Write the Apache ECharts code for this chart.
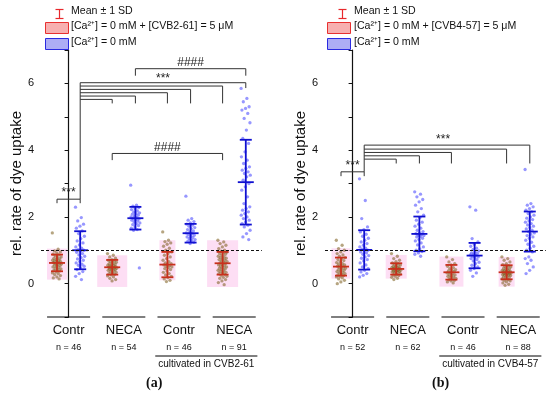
<!DOCTYPE html>
<html><head><meta charset="utf-8">
<script src="https://cdn.jsdelivr.net/npm/echarts@6/dist/echarts.min.js"></script>
<style>html,body{margin:0;padding:0;background:#fff}#c{width:550px;height:399px}</style>
</head><body><div id="c"></div>
<script>
// ---------------- DATA ----------------
const categories = ['Contr', 'NECA', 'Contr', 'NECA'];
const nA = [46, 54, 46, 91];
const nB = [52, 62, 46, 88];
const yTickLabels = [0, 2, 4, 6];

// Panel (a) — CVB2-61
const redA1 = [1.52,1.03,0.98,0.95,0.92,0.88,0.86,0.83,0.8,0.78,0.76,0.74,0.72,0.7,0.69,0.67,0.66,0.65,0.63,0.62,0.6,0.59,0.57,0.56,0.54,0.52,0.5,0.48,0.46,0.44,0.42,0.4,0.38,0.35,0.32,0.3,0.27,0.24,0.2,0.17,0.14];
const blueA1 = [2.29,1.98,1.88,1.78,1.72,1.66,1.58,1.5,1.42,1.35,1.28,1.22,1.16,1.1,1.06,1.02,1.0,0.97,0.94,0.9,0.86,0.82,0.78,0.74,0.7,0.66,0.62,0.58,0.55,0.52,0.48,0.42,0.36,0.3,0.22,0.12];
const redA2 = [0.9,0.85,0.8,0.76,0.72,0.7,0.68,0.66,0.64,0.62,0.6,0.58,0.56,0.55,0.54,0.52,0.51,0.5,0.49,0.48,0.47,0.46,0.45,0.44,0.42,0.41,0.4,0.38,0.36,0.34,0.32,0.3,0.28,0.26,0.23,0.2,0.16,0.12,0.08];
const blueA2 = [2.95,2.35,2.32,2.28,2.25,2.22,2.18,2.15,2.12,2.1,2.08,2.05,2.02,2.0,1.98,1.96,1.94,1.92,1.9,1.88,1.85,1.82,1.8,1.77,1.74,1.7,1.66,1.62,1.6,0.47];
const redA3 = [1.55,1.3,1.26,1.22,1.18,1.12,1.06,1.0,0.95,0.9,0.85,0.8,0.75,0.7,0.66,0.62,0.6,0.58,0.56,0.54,0.52,0.5,0.48,0.45,0.42,0.38,0.34,0.3,0.26,0.22,0.18,0.14,0.1,0.06];
const blueA3 = [2.62,1.95,1.9,1.86,1.82,1.78,1.75,1.72,1.68,1.65,1.62,1.58,1.55,1.52,1.5,1.48,1.45,1.42,1.4,1.38,1.35,1.32,1.3,1.27,1.24,1.2];
const redA4 = [1.3,1.25,1.2,1.15,1.1,1.05,1.0,0.97,0.94,0.92,0.9,0.88,0.85,0.82,0.8,0.78,0.76,0.74,0.72,0.7,0.68,0.66,0.64,0.62,0.6,0.58,0.56,0.54,0.52,0.5,0.48,0.46,0.44,0.42,0.4,0.38,0.36,0.34,0.32,0.3,0.28,0.25,0.22,0.19,0.16,0.12,0.08,0.03,-0.03];
const blueA4 = [5.85,5.55,5.45,5.3,5.25,5.2,5.1,4.95,4.82,4.6,4.35,4.2,3.95,3.8,3.7,3.6,3.5,3.45,3.4,3.35,3.3,3.25,3.2,3.1,3.0,2.9,2.8,2.6,2.4,2.3,2.25,2.2,2.15,2.1,2.05,2.0,1.95,1.9,1.85,1.8,1.75,1.7,1.6,1.5,1.4,1.32];
const meanRedA = [0.62, 0.49, 0.57, 0.61];
const sdRedA   = [0.25, 0.22, 0.38, 0.34];
const meanBlueA = [1.0, 1.96, 1.51, 3.04];
const sdBlueA   = [0.57, 0.34, 0.28, 1.27];
const boxLowA  = [0.12, -0.1, 0.1, -0.1];
const boxHighA = [1.05, 0.85, 1.3, 1.3];

// Panel (b) — CVB4-57
const redB1 = [1.3,1.15,1.05,1.0,0.95,0.9,0.86,0.82,0.78,0.75,0.72,0.69,0.66,0.63,0.6,0.58,0.56,0.54,0.52,0.5,0.48,0.46,0.44,0.42,0.4,0.38,0.36,0.34,0.32,0.3,0.28,0.26,0.24,0.22,0.2,0.17,0.14,0.1,0.05,0.0];
const blueB1 = [3.14,2.49,1.95,1.7,1.62,1.55,1.48,1.42,1.36,1.3,1.25,1.2,1.15,1.1,1.06,1.03,1.0,0.98,0.95,0.92,0.88,0.84,0.8,0.76,0.72,0.68,0.62,0.56,0.5,0.45,0.4,0.35,0.3,0.25,0.2];
const redB2 = [0.9,0.82,0.75,0.7,0.66,0.62,0.6,0.58,0.56,0.54,0.52,0.5,0.49,0.48,0.47,0.46,0.45,0.44,0.43,0.42,0.41,0.4,0.39,0.38,0.37,0.36,0.35,0.34,0.32,0.3,0.28,0.26,0.24,0.22,0.19,0.16,0.12];
const blueB2 = [2.75,2.68,2.6,2.52,2.45,2.35,2.25,2.15,2.05,1.98,1.9,1.84,1.78,1.72,1.66,1.6,1.56,1.52,1.5,1.48,1.46,1.44,1.42,1.4,1.36,1.32,1.28,1.22,1.16,1.1,1.04,1.0,0.96,0.92,0.88,0.82];
const redB3 = [0.8,0.72,0.65,0.6,0.56,0.52,0.48,0.45,0.42,0.4,0.38,0.36,0.34,0.32,0.3,0.28,0.26,0.24,0.22,0.2,0.18,0.16,0.14,0.12,0.1,0.08,0.05,0.02];
const blueB3 = [2.3,2.2,1.35,1.25,1.18,1.12,1.06,1.02,0.98,0.95,0.92,0.9,0.88,0.86,0.84,0.82,0.8,0.78,0.75,0.72,0.68,0.64,0.6,0.55,0.5,0.45,0.4,0.32,0.22];
const redB4 = [0.8,0.75,0.7,0.65,0.6,0.57,0.54,0.52,0.5,0.48,0.46,0.44,0.42,0.4,0.39,0.38,0.37,0.36,0.35,0.34,0.33,0.32,0.31,0.3,0.29,0.28,0.27,0.26,0.25,0.24,0.22,0.2,0.18,0.16,0.14,0.12,0.1,0.08,0.05,0.02,-0.02,-0.05];
const blueB4 = [3.42,2.4,2.35,2.3,2.25,2.2,2.15,2.1,2.05,2.0,1.96,1.92,1.88,1.84,1.8,1.76,1.72,1.68,1.64,1.6,1.56,1.52,1.48,1.44,1.4,1.36,1.3,1.24,1.18,1.12,1.06,1.0,0.95,0.8,0.75,0.7,0.6,0.5,0.4,0.3];
const meanRedB = [0.51, 0.44, 0.34, 0.34];
const sdRedB   = [0.27, 0.17, 0.22, 0.21];
const meanBlueB = [1.01, 1.49, 0.84, 1.56];
const sdBlueB   = [0.59, 0.52, 0.38, 0.60];
const boxLowB  = [0.15, 0.15, -0.09, -0.09];
const boxHighB = [1.06, 0.86, 0.81, 0.8];

// ---------------- LAYOUT / STYLE ----------------
const OFF = 0.21;            // red/blue offset from group centre
const SPREAD = 0.085;        // horizontal jitter half width
const boxWA = [20, 30, 16, 31];  // px
const boxWB = [19, 21, 24, 16];
const FONT = '"Liberation Sans", Arial, sans-serif';
const redPt = 'rgba(125,95,30,0.7)';
const bluePt = 'rgba(45,45,255,0.62)';
const redBar = '#c8301c';
const blueBar = '#1010d0';

function jit(i){ return (((i * 0.6180339887) % 1) - 0.5) * 2 * SPREAD; }
function pts(arr, centre){ return arr.map((v,i)=>[centre + jit(i), v]); }

function errRender(color){
  return function(params, api){
    const x=api.value(0), m=api.value(1), s=api.value(2);
    const c=api.coord([x,m]), t=api.coord([x,m+s]), b=api.coord([x,m-s]);
    const st={stroke:color,lineWidth:1.8};
    return {type:'group',children:[
      {type:'line',shape:{x1:c[0],y1:t[1],x2:c[0],y2:b[1]},style:st},
      {type:'line',shape:{x1:c[0]-6,y1:t[1],x2:c[0]+6,y2:t[1]},style:st},
      {type:'line',shape:{x1:c[0]-6,y1:b[1],x2:c[0]+6,y2:b[1]},style:st},
      {type:'line',shape:{x1:c[0]-8,y1:c[1],x2:c[0]+8,y2:c[1]},style:st}
    ]};
  };
}
function boxRender(widths){
  return function(params, api){
    const x=api.value(0), lo=api.value(1), hi=api.value(2);
    const a=api.coord([x,hi]), b=api.coord([x,lo]);
    const w=widths[params.dataIndex];
    return {type:'rect',shape:{x:a[0]-w/2,y:a[1],width:w,height:b[1]-a[1]},style:{fill:'rgba(252,208,240,0.7)'}};
  };
}
function annRender(spec){
  return function(params, api){
    const P=(x,y)=>api.coord([x,y]);
    const ch=[];
    spec.lines.forEach(p=>{
      ch.push({type:'polyline',shape:{points:p.map(q=>P(q[0],q[1]))},style:{stroke:'#333',lineWidth:1,fill:null}});
    });
    spec.texts.forEach(t=>{
      const p=P(t[0],t[1]);
      ch.push({type:'text',style:{text:t[2],x:p[0],y:p[1],align:'center',verticalAlign:'middle',font:'12px '+FONT,fill:'#222'}});
    });
    for(let i=0;i<4;i++){
      const a=P(i-0.39,-1), b=P(i+0.39,-1);
      ch.push({type:'line',shape:{x1:a[0],y1:a[1],x2:b[0],y2:b[1]},style:{stroke:'#000',lineWidth:1.2}});
    }
    const a=P(1.57,-1), b=P(3.42,-1);
    ch.push({type:'line',shape:{x1:a[0],y1:a[1]+39,x2:b[0],y2:a[1]+39},style:{stroke:'#000',lineWidth:1}});
    ch.push({type:'text',style:{text:spec.cult,x:(a[0]+b[0])/2,y:a[1]+47,align:'center',verticalAlign:'middle',font:'10px '+FONT,fill:'#111'}});
    return {type:'group',children:ch};
  };
}

// brackets / significance annotations (data units)
const annA = {
  cult: 'cultivated in CVB2-61',
  lines: [
    [[-OFF,2.41],[-OFF,2.53],[OFF,2.53],[OFF,2.41]],
    [[OFF,2.53],[OFF,6.02],[3+OFF,6.02],[3+OFF,5.86]],
    [[OFF,5.92],[3-OFF,5.92],[3-OFF,5.40]],
    [[OFF,5.82],[2+OFF,5.82],[2+OFF,5.40]],
    [[OFF,5.72],[2-OFF,5.72],[2-OFF,5.40]],
    [[OFF,5.62],[1+OFF,5.62],[1+OFF,5.40]],
    [[OFF,5.52],[1-OFF,5.52],[1-OFF,5.40]],
    [[1+OFF,6.23],[1+OFF,6.44],[3+OFF,6.44],[3+OFF,6.23]],
    [[1-OFF,3.70],[1-OFF,3.90],[3-OFF,3.90],[3-OFF,3.70]]
  ],
  texts: [[0,2.71,'***'],[1.71,6.15,'***'],[2.21,6.62,'####'],[1.79,4.08,'####']]
};
const annB = {
  cult: 'cultivated in CVB4-57',
  lines: [
    [[-OFF,3.22],[-OFF,3.35],[OFF,3.35],[OFF,3.22]],
    [[OFF,3.35],[OFF,4.15],[3+OFF,4.15],[3+OFF,3.60]],
    [[OFF,4.03],[3-OFF,4.03],[3-OFF,3.60]],
    [[OFF,3.93],[2-OFF,3.93],[2-OFF,3.60]],
    [[OFF,3.83],[1+OFF,3.83],[1+OFF,3.60]],
    [[OFF,3.73],[1-OFF,3.73],[1-OFF,3.60]]
  ],
  texts: [[0,3.53,'***'],[1.64,4.30,'***']]
};

const panels = [
  {reds:[redA1,redA2,redA3,redA4], blues:[blueA1,blueA2,blueA3,blueA4], mR:meanRedA, sR:sdRedA, mB:meanBlueA, sB:sdBlueA, lo:boxLowA, hi:boxHighA, bw:boxWA, n:nA, ann:annA, left:41},
  {reds:[redB1,redB2,redB3,redB4], blues:[blueB1,blueB2,blueB3,blueB4], mR:meanRedB, sR:sdRedB, mB:meanBlueB, sB:sdBlueB, lo:boxLowB, hi:boxHighB, bw:boxWB, n:nB, ann:annB, left:325}
];

const grid=[], xAxis=[], yAxis=[], series=[];
panels.forEach((p,k)=>{
  grid.push({left:p.left, top:50, width:220.8, height:267});
  xAxis.push({type:'value', gridIndex:k, min:-0.5, max:3.5, show:false});
  yAxis.push({type:'value', gridIndex:k, min:-1, max:7, interval:1,
    name:'rel. rate of dye uptake', nameLocation:'middle', nameGap:16,
    nameTextStyle:{fontSize:15, fontFamily:FONT, color:'#111'},
    axisLine:{show:true, lineStyle:{color:'#111', width:1.2}},
    axisTick:{show:true, length:4, lineStyle:{color:'#111'}},
    splitLine:{show:false},
    axisLabel:{fontSize:11, fontFamily:FONT, color:'#111', margin:7,
      formatter:v=>yTickLabels.includes(v)?String(v):''}
  });
});
panels.forEach((p,k)=>{
  xAxis.push({type:'category', gridIndex:k, data:categories, position:'bottom',
    axisLine:{show:false}, axisTick:{show:false},
    axisLabel:{interval:0, margin:3, formatter:(v,i)=>'{a|'+v+'}\n{b|n = '+p.n[i]+'}',
      rich:{a:{fontSize:13, fontFamily:FONT, color:'#111', lineHeight:20},
            b:{fontSize:9, fontFamily:FONT, color:'#111', lineHeight:16}}}
  });
});
panels.forEach((p,k)=>{
  const redX=[0,1,2,3].map(i=>i-OFF), blueX=[0,1,2,3].map(i=>i+OFF);
  series.push({type:'custom', xAxisIndex:k, yAxisIndex:k, renderItem:boxRender(p.bw), silent:true, z:1,
    data: redX.map((x,i)=>[x,p.lo[i],p.hi[i]])});
  series.push({type:'scatter', xAxisIndex:k, yAxisIndex:k, symbolSize:3.3, z:2, silent:true,
    itemStyle:{color:redPt},
    data: p.reds.flatMap((arr,i)=>pts(arr,redX[i])),
    markLine:{silent:true, symbol:'none', label:{show:false},
      lineStyle:{color:'#111', type:[3,2], width:1.2}, data:[{yAxis:1}]}
  });
  series.push({type:'scatter', xAxisIndex:k, yAxisIndex:k, symbolSize:3.3, z:2, silent:true,
    itemStyle:{color:bluePt},
    data: p.blues.flatMap((arr,i)=>pts(arr,blueX[i]))});
  series.push({type:'custom', xAxisIndex:k, yAxisIndex:k, renderItem:errRender(redBar), silent:true, z:3,
    data: redX.map((x,i)=>[x,p.mR[i],p.sR[i]])});
  series.push({type:'custom', xAxisIndex:k, yAxisIndex:k, renderItem:errRender(blueBar), silent:true, z:3,
    data: blueX.map((x,i)=>[x,p.mB[i],p.sB[i]])});
  series.push({type:'custom', xAxisIndex:k, yAxisIndex:k, renderItem:annRender(p.ann), silent:true, z:4, clip:false,
    data:[[0,0]]});
});

function legend(x0, iconX, textX, label){
  const T=(t,y)=>({type:'text', left:textX, top:y-7, style:{text:t, font:'10.6px '+FONT, fill:'#111'}});
  return [
    {type:'group', left:iconX-4, top:7, children:[
      {type:'line', shape:{x1:4,y1:1,x2:4,y2:10}, style:{stroke:'#e8282c',lineWidth:1.2}},
      {type:'line', shape:{x1:0,y1:1,x2:8,y2:1}, style:{stroke:'#e8282c',lineWidth:1.2}},
      {type:'line', shape:{x1:0,y1:10,x2:8,y2:10}, style:{stroke:'#e8282c',lineWidth:1.2}}
    ]},
    T('Mean ± 1 SD', 13),
    {type:'rect', left:x0, top:22, shape:{width:23,height:11}, style:{fill:'#f7b0b0', stroke:'#e83030', lineWidth:1}},
    T(label, 28),
    {type:'rect', left:x0, top:38, shape:{width:23,height:11}, style:{fill:'#adadf5', stroke:'#2a2ae0', lineWidth:1}},
    T('[Ca²⁺] = 0 mM', 44)
  ];
}
const graphic = [
  ...legend(45, 57, 71, '[Ca²⁺] = 0 mM + [CVB2-61] = 5 μM'),
  ...legend(327, 340, 354, '[Ca²⁺] = 0 mM + [CVB4-57] = 5 μM'),
  {type:'text', left:146, top:376, style:{text:'(a)', font:'bold 14px "Liberation Serif", serif', fill:'#111'}},
  {type:'text', left:432, top:376, style:{text:'(b)', font:'bold 14px "Liberation Serif", serif', fill:'#111'}}
];

const chart = echarts.init(document.getElementById('c'), null, {renderer:'canvas'});
chart.setOption({animation:false, backgroundColor:'#fff', grid, xAxis, yAxis, series, graphic});
</script>
</body></html>
